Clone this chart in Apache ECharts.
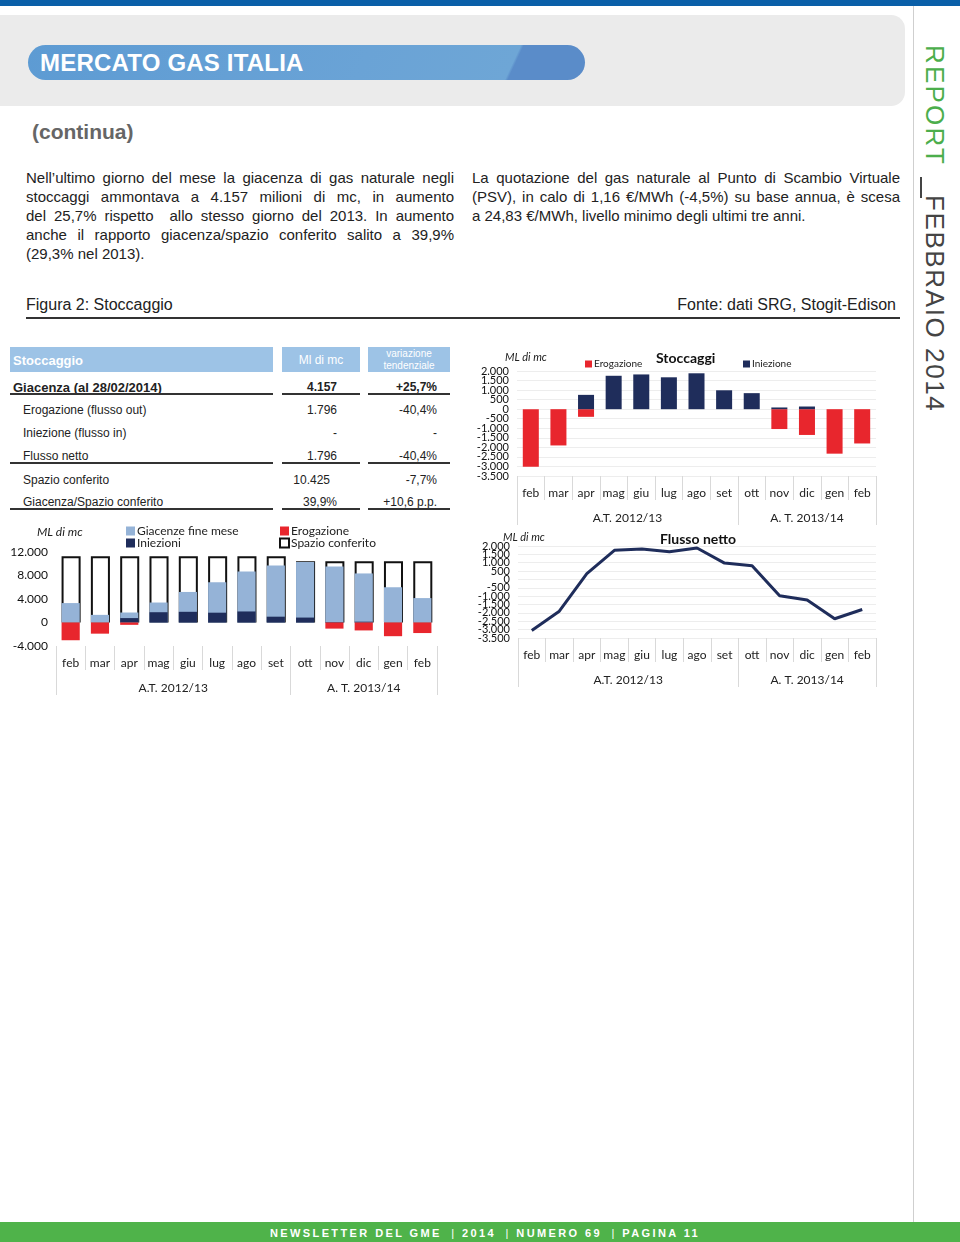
<!DOCTYPE html>
<html>
<head>
<meta charset="utf-8">
<title>Mercato gas Italia - Stoccaggio</title>
<script src="https://cdn.jsdelivr.net/npm/echarts@6/dist/echarts.min.js"></script>
<style>
    body { margin: 0; background: #fff; }
    #page { position: relative; width: 960px; height: 1242px; overflow: hidden; font-family: "Liberation Sans", Arial, sans-serif; color: #222; }
    .abs { position: absolute; }
    .topbar { left: 0; top: 0; width: 960px; height: 6px; background: #0a5fa8; }
    .panel { left: 0; top: 15px; width: 905px; height: 91px; background: #ebebeb; border-radius: 0 14px 14px 0; }
    .pill { left: 28px; top: 45px; width: 557px; height: 35px; border-radius: 18px;
        background: linear-gradient(115deg, #5d9bd3 0%, #6aa3d6 60%, #6ea6d6 86%, #5a8cc9 86.5%, #5a8cc9 100%); }
    .pill span { position: absolute; left: 12px; top: 4px; font-size: 24px; font-weight: bold; color: #fff; letter-spacing: 0.2px; }
    .vline { left: 913px; top: 6px; width: 1px; height: 1216px; background: #cfcfcf; }
    .vert { writing-mode: vertical-rl; font-size: 26px; line-height: 1; }
    .continua { left: 32px; top: 120px; font-size: 21px; font-weight: bold; color: #666; }
    .par div { font-size: 15px; line-height: 19px; text-align: justify; text-align-last: justify; white-space: nowrap; }
    .par div.last { text-align-last: left; }
    .fig { font-size: 16px; top: 296px; }
    .rule { left: 26px; top: 317px; width: 874px; height: 2px; background: #333; }
    .th { background: #9dc3e6; color: #fff; height: 25px; top: 347px; }
    .cell { font-size: 12px; }
    .ul { height: 2px; background: #333; }
    .footer { left: 0; top: 1222px; width: 960px; height: 20px; background: #4fb34a; color: #fff; box-sizing: border-box; padding-left: 10px;
        font-size: 11px; font-weight: bold; letter-spacing: 2.4px; text-align: center; line-height: 22px; }
    .footer span { display: inline-block; padding-left: 4px; font-weight: normal; }
    .chart { position: absolute; }
</style>
</head>
<body>
<div id="page">
    <div class="abs topbar"></div>
    <div class="abs panel"></div>
    <div class="abs pill"><span>MERCATO GAS ITALIA</span></div>
    <div class="abs vline"></div>
    <div class="abs vert" style="left:922px; top:45px; color:#4cae4c; letter-spacing:2.2px;">REPORT</div>
    <div class="abs" style="left:920px; top:177px; width:2px; height:21px; background:#444;"></div>
    <div class="abs vert" style="left:922px; top:195px; color:#444; letter-spacing:1.6px;">FEBBRAIO 2014</div>

    <div class="abs continua">(continua)</div>

    <div class="abs par" style="left:26px; top:168px; width:428px;">
        <div>Nell’ultimo giorno del mese la giacenza di gas naturale negli</div>
        <div>stoccaggi ammontava a 4.157 milioni di mc, in aumento</div>
        <div>del 25,7% rispetto &nbsp;allo stesso giorno del 2013. In aumento</div>
        <div>anche il rapporto giacenza/spazio conferito salito a 39,9%</div>
        <div class="last">(29,3% nel 2013).</div>
    </div>
    <div class="abs par" style="left:472px; top:168px; width:428px;">
        <div>La quotazione del gas naturale al Punto di Scambio Virtuale</div>
        <div>(PSV), in calo di 1,16 €/MWh (-4,5%) su base annua, è scesa</div>
        <div class="last">a 24,83 €/MWh, livello minimo degli ultimi tre anni.</div>
    </div>

    <div class="abs fig" style="left:26px;">Figura 2: Stoccaggio</div>
    <div class="abs fig" style="right:64px;">Fonte: dati SRG, Stogit-Edison</div>
    <div class="abs rule"></div>

    <!-- tabella -->
    <div class="abs th" style="left:10px; width:263px;"><span class="abs" style="left:3px; top:6px; font-size:13px; font-weight:bold;">Stoccaggio</span></div>
    <div class="abs th" style="left:282px; width:78px; text-align:center; font-size:12px; line-height:27px;">Ml di mc</div>
    <div class="abs th" style="left:368px; width:82px; text-align:center; font-size:10px; line-height:12px;"><div style="padding-top:1px;">variazione<br>tendenziale</div></div>

    <div id="tabella"></div>

    <div id="chart1" class="chart" style="left:0; top:515px; width:460px; height:190px;"></div>
    <div id="chart2" class="chart" style="left:470px; top:340px; width:420px; height:190px;"></div>
    <div id="chart3" class="chart" style="left:470px; top:525px; width:420px; height:170px;"></div>

    <div class="abs footer">NEWSLETTER DEL GME <span>|</span> 2014 <span>|</span> NUMERO 69 <span>|</span> PAGINA 11</div>
</div>

<script>
// mesi dell'anno termico e gruppi
var mesi = ['feb', 'mar', 'apr', 'mag', 'giu', 'lug', 'ago', 'set', 'ott', 'nov', 'dic', 'gen', 'feb'];
var gruppi = ['A.T. 2012/13', 'A. T. 2013/14'];
var confiniGruppi = [0, 8, 13];
var centriGruppi = [4, 10.5];

// etichette asse y dei grafici a destra (dal basso verso l'alto)
var tickFlussi = ['-3.500', '-3.000', '-2.500', '-2.000', '-1.500', '-1.000', '-500', '0', '500', '1.000', '1.500', '2.000'];

// ML di mc
var spazioConferito = [11295, 11295, 11295, 11295, 11295, 11295, 11295, 11295, 10425, 10425, 10425, 10425, 10425];
var giacenze = [3307, 1300, 1700, 3400, 5200, 6850, 8700, 9700, 10300, 9550, 8350, 6000, 4157];
var iniezioni = [0, 0, 750, 1750, 1820, 1670, 1880, 990, 840, 90, 140, 0, 0];
var erogazione = [-3020, -1900, -400, 0, 0, 0, 0, 0, 0, -1040, -1350, -2330, -1796];
var flussoNetto = [-3050, -1900, 350, 1740, 1820, 1660, 1880, 980, 820, -980, -1230, -2350, -1796];

// tabella riepilogo
var righeTabella = [
    ['Giacenza (al 28/02/2014)', '4.157', '+25,7%'],
    ['Erogazione (flusso out)', '1.796', '-40,4%'],
    ['Iniezione (flusso in)', '-', '-'],
    ['Flusso netto', '1.796', '-40,4%'],
    ['Spazio conferito', '10.425', '-7,7%'],
    ['Giacenza/Spazio conferito', '39,9%', '+10,6 p.p.']
];

var FONT = 'Lato';
var ROSSO = '#e8262d', BLU = '#1f2d5b', AZZURRO = '#95b3d7';

function migliaia(v) {
    var s = String(Math.abs(v)).replace(/\B(?=(\d{3})+(?!\d))/g, '.');
    return (v < 0 ? '-' : '') + s;
}

// tabella
(function () {
    var yRighe = [380, 403, 426, 449, 473, 495];
    var sottolineate = [0, 3, 5];
    var html = '';
    for (var i = 0; i < righeTabella.length; i++) {
        var r = righeTabella[i], y = yRighe[i];
        var bold = i === 0;
        html += '<div class="abs cell" style="top:' + y + 'px; left:' + (bold ? 13 : 23) + 'px;' +
            (bold ? 'font-size:13px; font-weight:bold;' : '') + '">' + r[0] + '</div>';
        var dx = (i === 4) ? 630 : 623;
        html += '<div class="abs cell" style="top:' + y + 'px; right:' + dx + 'px;' +
            (bold ? 'font-weight:bold;' : '') + '">' + r[1] + '</div>';
        html += '<div class="abs cell" style="top:' + y + 'px; right:523px;' +
            (bold ? 'font-weight:bold;' : '') + '">' + r[2] + '</div>';
        if (sottolineate.indexOf(i) >= 0) {
            var yl = y + 13;
            html += '<div class="abs ul" style="top:' + yl + 'px; left:10px; width:263px;"></div>';
            html += '<div class="abs ul" style="top:' + yl + 'px; left:282px; width:78px;"></div>';
            html += '<div class="abs ul" style="top:' + yl + 'px; left:368px; width:82px;"></div>';
        }
    }
    document.getElementById('tabella').innerHTML = html;
})();

// assi x a due livelli (mesi + anno termico)
function assiX(sfasamento) {
    return [{
        type: 'category',
        data: mesi,
        position: 'bottom',
        axisLine: { show: false, onZero: false },
        axisTick: { show: true, interval: 0, length: 24, lineStyle: { color: '#d9d9d9' } },
        axisLabel: { interval: 0, margin: 11, fontFamily: FONT, fontSize: 12, color: '#222' }
    }, {
        type: 'value',
        min: 0,
        max: mesi.length,
        position: 'bottom',
        offset: sfasamento,
        axisLine: { show: false, onZero: false },
        splitLine: { show: false },
        axisTick: { show: true, length: 25, customValues: confiniGruppi, lineStyle: { color: '#d9d9d9' } },
        axisLabel: {
            customValues: centriGruppi, margin: 12, fontFamily: FONT, fontSize: 12, color: '#222',
            formatter: function (v) { return gruppi[centriGruppi.indexOf(v)] || ''; }
        }
    }];
}

// asse y dei flussi: scala a valori + asse di sole etichette (tutte visibili anche se fitte)
function assiYFlussi() {
    return [{
        type: 'value', min: -3500, max: 2000, interval: 500,
        axisLine: { show: false }, axisTick: { show: false },
        splitLine: { show: true, lineStyle: { color: '#ededed' } },
        axisLabel: { show: false }
    }, {
        type: 'category', data: tickFlussi, boundaryGap: false, position: 'left',
        axisLine: { show: false }, axisTick: { show: false }, splitLine: { show: false },
        axisLabel: { interval: 0, margin: 8, fontFamily: FONT, fontSize: 11, color: '#111' }
    }];
}

// grafico giacenze / spazio conferito
var chart1 = echarts.init(document.getElementById('chart1'));
chart1.setOption({
    animation: false,
    title: { text: 'ML di mc', left: 32, top: 6, textStyle: { fontFamily: FONT, fontSize: 12, fontStyle: 'italic', fontWeight: 'normal', color: '#222' } },
    legend: [{
        data: ['Giacenze fine mese', 'Iniezioni'], orient: 'vertical', left: 121, top: 5, itemWidth: 9, itemHeight: 9, itemGap: 0,
        textStyle: { fontFamily: FONT, fontSize: 12, color: '#222', lineHeight: 11, padding: [0, 0, 0, -3] }, icon: 'rect'
    }, {
        data: ['Erogazione', 'Spazio conferito'], orient: 'vertical', left: 274, top: 5, itemWidth: 9, itemHeight: 9, itemGap: 0,
        textStyle: { fontFamily: FONT, fontSize: 12, color: '#222', lineHeight: 11, padding: [0, 0, 0, -3] }, icon: 'rect'
    }],
    grid: { left: 56, top: 37, width: 381, height: 94 },
    xAxis: assiX(24),
    yAxis: {
        type: 'value', min: -4000, max: 12000, interval: 4000,
        axisLine: { show: false }, axisTick: { show: false }, splitLine: { show: false },
        axisLabel: { margin: 8, fontFamily: FONT, fontSize: 12, color: '#111', formatter: migliaia }
    },
    series: [
        { name: 'Spazio conferito', type: 'bar', data: spazioConferito, barWidth: '65%', barGap: '-100%',
          itemStyle: { color: '#fff', borderColor: '#111', borderWidth: 2 } },
        { name: 'Giacenze fine mese', type: 'bar', data: giacenze, barWidth: '62%', barGap: '-100%', itemStyle: { color: AZZURRO } },
        { name: 'Iniezioni', type: 'bar', data: iniezioni, barWidth: '62%', barGap: '-100%', itemStyle: { color: BLU } },
        { name: 'Erogazione', type: 'bar', data: erogazione, barWidth: '62%', barGap: '-100%', itemStyle: { color: ROSSO } }
    ]
});

// grafico stoccaggi (erogazione / iniezione)
var chart2 = echarts.init(document.getElementById('chart2'));
chart2.setOption({
    animation: false,
    title: [
        { text: 'ML di mc', left: 30, top: 7, textStyle: { fontFamily: FONT, fontSize: 11, fontStyle: 'italic', fontWeight: 'normal', color: '#222' } },
        { text: 'Stoccaggi', left: 181, top: 6, textStyle: { fontFamily: FONT, fontSize: 14, fontWeight: 'bold', color: '#111' } }
    ],
    legend: [{
        data: ['Erogazione'], left: 110, top: 14, itemWidth: 7, itemHeight: 7, icon: 'rect',
        textStyle: { fontFamily: FONT, fontSize: 10, color: '#222', padding: [0, 0, 0, -3] }
    }, {
        data: ['Iniezione'], left: 268, top: 14, itemWidth: 7, itemHeight: 7, icon: 'rect',
        textStyle: { fontFamily: FONT, fontSize: 10, color: '#222', padding: [0, 0, 0, -3] }
    }],
    grid: { left: 47, top: 31, width: 359, height: 105 },
    xAxis: assiX(24),
    yAxis: assiYFlussi(),
    series: [
        { name: 'Erogazione', type: 'bar', data: erogazione, barWidth: '58%', barGap: '-100%', itemStyle: { color: ROSSO } },
        { name: 'Iniezione', type: 'bar', data: iniezioni, barWidth: '58%', barGap: '-100%', itemStyle: { color: BLU } }
    ]
});

// grafico flusso netto
var chart3 = echarts.init(document.getElementById('chart3'));
chart3.setOption({
    animation: false,
    title: [
        { text: 'ML di mc', left: 28, top: 2, textStyle: { fontFamily: FONT, fontSize: 11, fontStyle: 'italic', fontWeight: 'normal', color: '#222' } },
        { text: 'Flusso netto', left: 185, top: 2, textStyle: { fontFamily: FONT, fontSize: 14, fontWeight: 'bold', color: '#111' } }
    ],
    grid: { left: 48, top: 21, width: 358, height: 92 },
    xAxis: assiX(24),
    yAxis: assiYFlussi(),
    series: [
        { name: 'Flusso netto', type: 'line', data: flussoNetto, symbol: 'none', lineStyle: { color: BLU, width: 3 } }
    ]
});
</script>
</body>
</html>
